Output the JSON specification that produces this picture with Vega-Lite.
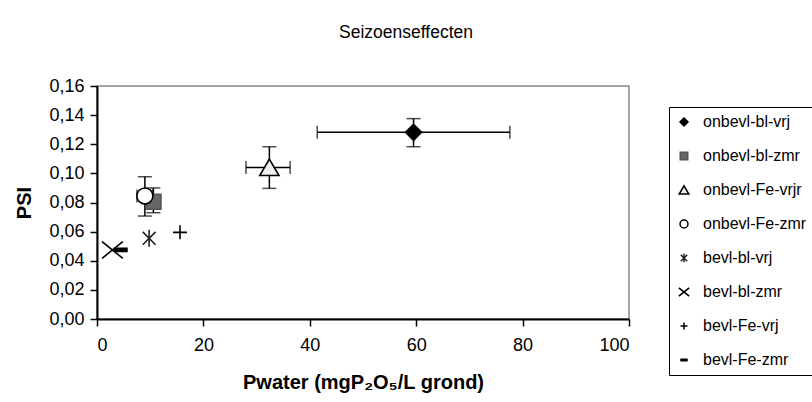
{
  "$schema": "https://vega.github.io/schema/vega-lite/v6.json",
  "width": 532,
  "height": 233,
  "autosize": {"type": "none"},
  "padding": {"left": 97, "top": 86, "right": 183, "bottom": 83},
  "background": "white",
  "title": {
    "text": "Seizoenseffecten",
    "fontSize": 17.5,
    "font": "Liberation Sans",
    "fontWeight": "normal",
    "color": "black",
    "anchor": "middle",
    "dx": 43,
    "offset": 36
  },
  "config": {
    "font": "Liberation Sans",
    "view": {"stroke": "#888888", "strokeWidth": 1.5},
    "axis": {
      "grid": false,
      "domainColor": "black",
      "domainWidth": 2,
      "tickColor": "black",
      "tickWidth": 1.5,
      "tickSize": 7,
      "labelFont": "Liberation Sans",
      "labelFontSize": 18,
      "labelColor": "black",
      "labelOverlap": false,
      "titleFont": "Liberation Sans",
      "titleFontWeight": "bold",
      "titleFontSize": 20,
      "titleColor": "black"
    }
  },
  "datasets": {
    "pts": [
      {"series": "onbevl-bl-vrj", "x": 59.5, "y": 0.1282, "xlo": 41.4, "xhi": 77.6, "ylo": 0.1183, "yhi": 0.1376},
      {"series": "onbevl-bl-zmr", "x": 10.6, "y": 0.0805, "xlo": null, "xhi": null, "ylo": 0.073, "yhi": 0.09},
      {"series": "onbevl-Fe-vrjr", "x": 32.4, "y": 0.104, "xlo": 28.0, "xhi": 36.3, "ylo": 0.0897, "yhi": 0.1183},
      {"series": "onbevl-Fe-zmr", "x": 9.0, "y": 0.0845, "xlo": 7.5, "xhi": 10.4, "ylo": 0.0707, "yhi": 0.0977},
      {"series": "bevl-bl-vrj", "x": 9.8, "y": 0.0554, "xlo": null, "xhi": null, "ylo": null, "yhi": null},
      {"series": "bevl-bl-zmr", "x": 2.9, "y": 0.0474, "xlo": null, "xhi": null, "ylo": null, "yhi": null},
      {"series": "bevl-Fe-vrj", "x": 15.6, "y": 0.0595, "xlo": null, "xhi": null, "ylo": null, "yhi": null},
      {"series": "bevl-Fe-zmr", "x": 4.5, "y": 0.0474, "xlo": null, "xhi": null, "ylo": null, "yhi": null}
    ]
  },
  "data": {"name": "pts"},
  "encoding": {
    "x": {"field": "x", "type": "quantitative", "scale": {"domain": [0, 100]},
      "axis": {"values": [0, 20, 40, 60, 80, 100], "title": "Pwater (mgP₂O₅/L grond)", "titlePadding": 18, "labelPadding": 10}},
    "y": {"field": "y", "type": "quantitative", "scale": {"domain": [0, 0.16]},
      "axis": {"values": [0, 0.02, 0.04, 0.06, 0.08, 0.1, 0.12, 0.14, 0.16], "labelExpr": "replace(format(datum.value, '.2f'), '.', ',')", "title": "PSI", "titlePadding": 14, "labelPadding": 6}}
  },
  "layer": [
    {
      "transform": [{"filter": "datum.xlo != null"}],
      "mark": {"type": "rule", "color": "black", "strokeWidth": 1.5},
      "encoding": {
        "x": {"field": "xlo", "type": "quantitative"},
        "x2": {"field": "xhi"}
      }
    },
    {
      "transform": [{"filter": "datum.xlo != null"}],
      "mark": {"type": "tick", "orient": "vertical", "color": "black", "size": 13, "thickness": 1.5},
      "encoding": {"x": {"field": "xlo", "type": "quantitative"}}
    },
    {
      "transform": [{"filter": "datum.xhi != null"}],
      "mark": {"type": "tick", "orient": "vertical", "color": "black", "size": 13, "thickness": 1.5},
      "encoding": {"x": {"field": "xhi", "type": "quantitative"}}
    },
    {
      "transform": [{"filter": "datum.ylo != null"}],
      "mark": {"type": "rule", "color": "black", "strokeWidth": 1.5},
      "encoding": {
        "y": {"field": "ylo", "type": "quantitative"},
        "y2": {"field": "yhi"}
      }
    },
    {
      "transform": [{"filter": "datum.ylo != null"}],
      "mark": {"type": "tick", "orient": "horizontal", "color": "black", "size": 14, "thickness": 1.5},
      "encoding": {"y": {"field": "ylo", "type": "quantitative"}}
    },
    {
      "transform": [{"filter": "datum.yhi != null"}],
      "mark": {"type": "tick", "orient": "horizontal", "color": "black", "size": 14, "thickness": 1.5},
      "encoding": {"y": {"field": "yhi", "type": "quantitative"}}
    },
    {
      "mark": {"type": "point", "strokeWidth": 1.6, "opacity": 1, "size": 256},
      "encoding": {
        "shape": {
          "field": "series", "type": "nominal",
          "scale": {
            "domain": ["onbevl-bl-vrj", "onbevl-bl-zmr", "onbevl-Fe-vrjr", "onbevl-Fe-zmr", "bevl-bl-vrj", "bevl-bl-zmr", "bevl-Fe-vrj", "bevl-Fe-zmr"],
            "range": [
              "M0,-1L1,0L0,1L-1,0Z",
              "M-0.94,-0.94L0.94,-0.94L0.94,0.94L-0.94,0.94Z",
              "M0,-1.05L1.2,1L-1.2,1Z",
              "M1,0A1,1,0,1,1,-1,0A1,1,0,1,1,1,0Z",
              "M-0.8,-0.8L0.8,0.8M-0.8,0.8L0.8,-0.8M0,-1.06L0,1.06",
              "M-1.3,-1.05L1.3,1.05M-1.3,1.05L1.3,-1.05",
              "M-0.875,0L0.875,0M0,-0.875L0,0.875",
              "M-0.75,-0.2L0.75,-0.2L0.75,0.2L-0.75,0.2Z"
            ]
          },
          "legend": {
            "title": null,
            "orient": "none",
            "legendX": 572,
            "legendY": 21,
            "strokeColor": "black",
            "fillColor": "white",
            "padding": 7,
            "labelFont": "Liberation Sans",
            "labelFontSize": 16,
            "labelColor": "black",
            "labelOffset": 11,
            "rowPadding": 18,
            "symbolSize": 64,
            "symbolStrokeWidth": 1.5,
            "labelLimit": 200
          }
        },
        "fill": {
          "field": "series", "type": "nominal",
          "scale": {
            "domain": ["onbevl-bl-vrj", "onbevl-bl-zmr", "onbevl-Fe-vrjr", "onbevl-Fe-zmr", "bevl-bl-vrj", "bevl-bl-zmr", "bevl-Fe-vrj", "bevl-Fe-zmr"],
            "range": ["black", "#666666", "#eeeeee", "white", "transparent", "transparent", "transparent", "black"]
          },
          "legend": {"title": null, "orient": "none", "legendX": 572, "legendY": 21}
        },
        "stroke": {
          "field": "series", "type": "nominal",
          "scale": {
            "domain": ["onbevl-bl-vrj", "onbevl-bl-zmr", "onbevl-Fe-vrjr", "onbevl-Fe-zmr", "bevl-bl-vrj", "bevl-bl-zmr", "bevl-Fe-vrj", "bevl-Fe-zmr"],
            "range": ["black", "#555555", "black", "black", "#222222", "black", "black", "black"]
          },
          "legend": {"title": null, "orient": "none", "legendX": 572, "legendY": 21}
        }
      }
    }
  ]
}
